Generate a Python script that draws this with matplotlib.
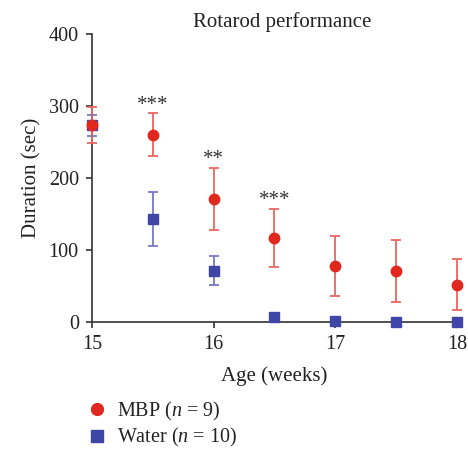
import matplotlib.pyplot as plt
from matplotlib.lines import Line2D

plt.rcParams['font.family'] = ['Liberation Serif', 'DejaVu Serif']
plt.rcParams['mathtext.fontset'] = 'custom'
plt.rcParams['mathtext.it'] = 'Liberation Serif:italic'
plt.rcParams['mathtext.rm'] = 'Liberation Serif'

# data
age = [15, 15.5, 16, 16.5, 17, 17.5, 18]
mbp_mean = [274, 260, 171, 117, 78, 71, 52]
mbp_err = [25, 30, 43, 40, 42, 43, 35]
water_mean = [273, 143, 71, 7, 1, 0, 0]
water_err = [14, 38, 20, 0, 0, 0, 0]
stars = ["***", "**", "***"]
star_age = [15.5, 16, 16.5]

red = "#e0281e"
red_err = "#e8675f"
blue = "#4045a8"
blue_err = "#7478c4"
txt = "#222222"

fig = plt.figure(figsize=(4.68, 4.51), dpi=100)
ax = fig.add_axes([92/468, 1 - 322/451, (457-92)/468, (322-34)/451])

ax.errorbar(age, water_mean, yerr=water_err, fmt="none", ecolor=blue_err,
            elinewidth=1.3, capsize=3.5, capthick=1.3, clip_on=False, zorder=2)
ax.plot(age, water_mean, "s", color=blue, markersize=7, clip_on=False, zorder=3)
ax.errorbar(age, mbp_mean, yerr=mbp_err, fmt="none", ecolor=red_err,
            elinewidth=1.3, capsize=3.5, capthick=1.3, clip_on=False, zorder=4)
ax.plot(age, mbp_mean, "o", color=red, markersize=7.5, clip_on=False, zorder=5)

for s, a in zip(stars, star_age):
    i = age.index(a)
    ax.annotate(s, (a, mbp_mean[i] + mbp_err[i]), xytext=(0, -1),
                textcoords="offset points", ha="center", va="bottom",
                fontsize=15, color="#333333")

ax.set_xlim(15, 18)
ax.set_ylim(0, 400)
ax.set_xticks([15, 16, 17, 18])
ax.set_yticks([0, 100, 200, 300, 400])
ax.spines["top"].set_visible(False)
ax.spines["right"].set_visible(False)
for sp in ["left", "bottom"]:
    ax.spines[sp].set_linewidth(1.2)
    ax.spines[sp].set_color("#333333")
ax.tick_params(direction="out", length=4.5, width=1.2, labelsize=14.5,
               colors="#333333", labelcolor=txt, pad=5)

ax.set_title("Rotarod performance", fontsize=15, color=txt, pad=5, x=0.52)
ax.set_xlabel("Age (weeks)", fontsize=15, color=txt, labelpad=9)
ax.set_ylabel("Duration (sec)", fontsize=15, color=txt, labelpad=5)

handles = [
    Line2D([], [], marker="o", color=red, linestyle="none", markersize=8.5),
    Line2D([], [], marker="s", color=blue, linestyle="none", markersize=8),
]
labels = ["MBP ($n$ = 9)", "Water ($n$ = 10)"]
fig.legend(handles, labels, loc="upper left", bbox_to_anchor=(87/468, 1 - 400/451),
           frameon=False, fontsize=14.5, handletextpad=0.5, labelspacing=0.15,
           handlelength=1.0, borderaxespad=0, borderpad=0, labelcolor=txt)

fig.savefig("out.png", dpi=100)
